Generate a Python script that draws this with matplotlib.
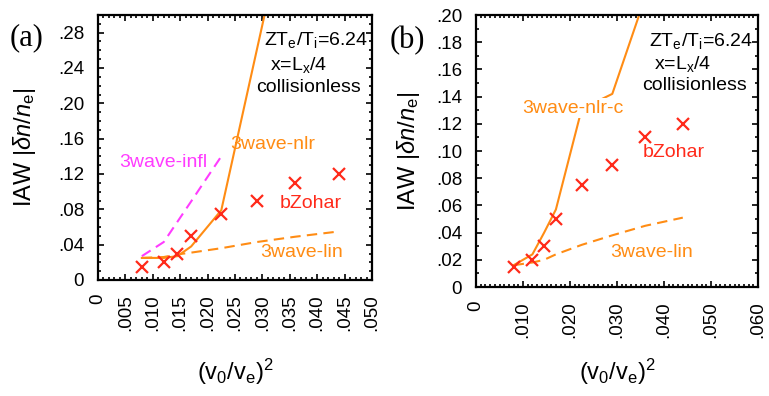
import matplotlib
matplotlib.use("Agg")
import matplotlib.pyplot as plt
from matplotlib.ticker import MultipleLocator, FixedLocator

plt.rcParams['font.family'] = ['Liberation Sans', 'DejaVu Sans']
plt.rcParams['mathtext.fontset'] = 'custom'
plt.rcParams['mathtext.rm'] = 'Liberation Sans'
plt.rcParams['mathtext.it'] = 'Liberation Sans:italic'
plt.rcParams['mathtext.bf'] = 'Liberation Sans:bold'

ORANGE = '#FF8C14'
RED = '#FF2A1A'
MAGENTA = '#FF3CFF'

# laser intensity parameter (v0/ve)^2
x_pts = [0.008, 0.012, 0.0145, 0.017, 0.0225, 0.029, 0.036, 0.044]
# bZohar particle simulation amplitudes
bzohar = [0.015, 0.020, 0.030, 0.050, 0.075, 0.090, 0.110, 0.120]

# panel (a) model curves
a_lin = [0.025, 0.026, 0.029, 0.031, 0.036, 0.043, 0.049, 0.055]
a_nlr_x = [0.008, 0.012, 0.0145, 0.017, 0.0225, 0.036]
a_nlr = [0.025, 0.025, 0.027, 0.038, 0.079, 0.457]
a_infl_x = [0.008, 0.012, 0.0145, 0.017, 0.0225]
a_infl = [0.027, 0.043, 0.066, 0.089, 0.140]

# panel (b) model curves
b_lin = [0.016, 0.018, 0.020, 0.024, 0.031, 0.038, 0.045, 0.051]
b_nlrc_x = [0.008, 0.012, 0.0145, 0.017, 0.0225, 0.029, 0.036]
b_nlrc = [0.016, 0.024, 0.040, 0.057, 0.131, 0.142, 0.213]

a_xticks = [0, 0.005, 0.010, 0.015, 0.020, 0.025, 0.030, 0.035, 0.040, 0.045, 0.050]
a_xlabels = ['0', '.005', '.010', '.015', '.020', '.025', '.030', '.035', '.040', '.045', '.050']
a_yticks = [0, 0.04, 0.08, 0.12, 0.16, 0.20, 0.24, 0.28]
a_ylabels = ['0', '.04', '.08', '.12', '.16', '.20', '.24', '.28']

b_xticks = [0, 0.010, 0.020, 0.030, 0.040, 0.050, 0.060]
b_xlabels = ['0', '.010', '.020', '.030', '.040', '.050', '.060']
b_yticks = [0, 0.02, 0.04, 0.06, 0.08, 0.10, 0.12, 0.14, 0.16, 0.18, 0.20]
b_ylabels = ['0', '.02', '.04', '.06', '.08', '.10', '.12', '.14', '.16', '.18', '.20']

fig = plt.figure(figsize=(7.69, 3.96), dpi=100)
axa = fig.add_axes([98 / 769, 1 - 280 / 396, 274 / 769, 265 / 396])
axb = fig.add_axes([476 / 769, 1 - 287 / 396, 282 / 769, 272 / 396])

lw = 1.5
dash = (5, 3)
TXT = 14


def style(ax, xt, xl, xminor, yt, yl, yminor, xlim, ylim, ylabel_x):
    ax.set_xlim(*xlim)
    ax.set_ylim(*ylim)
    ax.xaxis.set_major_locator(FixedLocator(xt))
    ax.set_xticklabels(xl, rotation=90, fontsize=13.5)
    ax.yaxis.set_major_locator(FixedLocator(yt))
    ax.set_yticklabels(yl, fontsize=13.5)
    ax.xaxis.set_minor_locator(MultipleLocator(xminor))
    ax.yaxis.set_minor_locator(MultipleLocator(yminor))
    ax.tick_params(which='both', direction='in', top=True, right=True, width=1.2)
    ax.tick_params(which='major', length=4, pad=10)
    ax.tick_params(which='minor', length=2.2)
    for s in ax.spines.values():
        s.set_linewidth(1.6)
    ax.set_xlabel(r'(v$_0$/v$_\mathrm{e}$)$^2$', fontsize=17)
    ax.xaxis.set_label_coords(0.5, 0, transform=ax.transAxes)
    ax.xaxis.label.set_verticalalignment('center')
    ax.xaxis.label.set_position((0.5, 0))
    ax.set_ylabel(r'IAW $|\delta n/n_\mathrm{e}|$', fontsize=17)
    ax.yaxis.label.set_verticalalignment('center')
    ax.yaxis.set_label_coords(ylabel_x, 0.5)


# ---- panel (a) ----
axa.plot(x_pts, a_lin, color=ORANGE, lw=lw, dashes=dash)
axa.plot(a_infl_x, a_infl, color=MAGENTA, lw=lw, dashes=dash)
axa.plot(a_nlr_x, a_nlr, color=ORANGE, lw=lw)
axa.plot(x_pts, bzohar, ls='none', marker='x', ms=8, mew=1.6, color=RED)
style(axa, a_xticks, a_xlabels, 0.001, a_yticks, a_ylabels, 0.01, (0, 0.05), (0, 0.30),
      (24 - 98) / 274)
axa.xaxis.set_label_coords(0.5, -(372 - 280) / 265)

axa.text(0.986, 0.905, r'ZT$_\mathrm{e}$/T$_\mathrm{i}$=6.24', transform=axa.transAxes,
         ha='right', va='center', fontsize=TXT)
axa.text(0.835, 0.81, r'x=L$_\mathrm{x}$/4', transform=axa.transAxes,
         ha='right', va='center', fontsize=TXT)
axa.text(0.96, 0.725, 'collisionless', transform=axa.transAxes,
         ha='right', va='center', fontsize=TXT)
axa.text(0.0120, 0.1327, '3wave-infl', color=MAGENTA, ha='center', va='center', fontsize=TXT)
axa.text(0.0318, 0.153, '3wave-nlr', color=ORANGE, ha='center', va='center', fontsize=TXT)
axa.text(0.0389, 0.0862, 'bZohar', color=RED, ha='center', va='center', fontsize=TXT)
axa.text(0.0372, 0.0306, '3wave-lin', color=ORANGE, ha='center', va='center', fontsize=TXT)
fig.text(27 / 769, 1 - 38 / 396, '(a)', family=['Liberation Serif', 'DejaVu Serif'],
         fontsize=22, ha='center', va='center')

# ---- panel (b) ----
axb.plot(x_pts, b_lin, color=ORANGE, lw=lw, dashes=dash)
axb.plot(b_nlrc_x, b_nlrc, color=ORANGE, lw=lw)
axb.plot(x_pts, bzohar, ls='none', marker='x', ms=8, mew=1.6, color=RED)
style(axb, b_xticks, b_xlabels, 0.001, b_yticks, b_ylabels, 0.01, (0, 0.06), (0, 0.20),
      (408 - 476) / 282)
axb.xaxis.set_label_coords(0.5, -(372 - 287) / 272)

axb.text(0.983, 0.905, r'ZT$_\mathrm{e}$/T$_\mathrm{i}$=6.24', transform=axb.transAxes,
         ha='right', va='center', fontsize=TXT)
axb.text(0.835, 0.82, r'x=L$_\mathrm{x}$/4', transform=axb.transAxes,
         ha='right', va='center', fontsize=TXT)
axb.text(0.96, 0.74, 'collisionless', transform=axb.transAxes,
         ha='right', va='center', fontsize=TXT)
axb.text(0.0206, 0.1316, '3wave-nlr-c', color=ORANGE, ha='center', va='center', fontsize=TXT,
         bbox=dict(facecolor='white', edgecolor='none', pad=1.0), zorder=5)
axb.text(0.0421, 0.099, 'bZohar', color=RED, ha='center', va='center', fontsize=TXT)
axb.text(0.0374, 0.0257, '3wave-lin', color=ORANGE, ha='center', va='center', fontsize=TXT)
fig.text(407 / 769, 1 - 41 / 396, '(b)', family=['Liberation Serif', 'DejaVu Serif'],
         fontsize=22, ha='center', va='center')

fig.savefig('out.png', dpi=100)
